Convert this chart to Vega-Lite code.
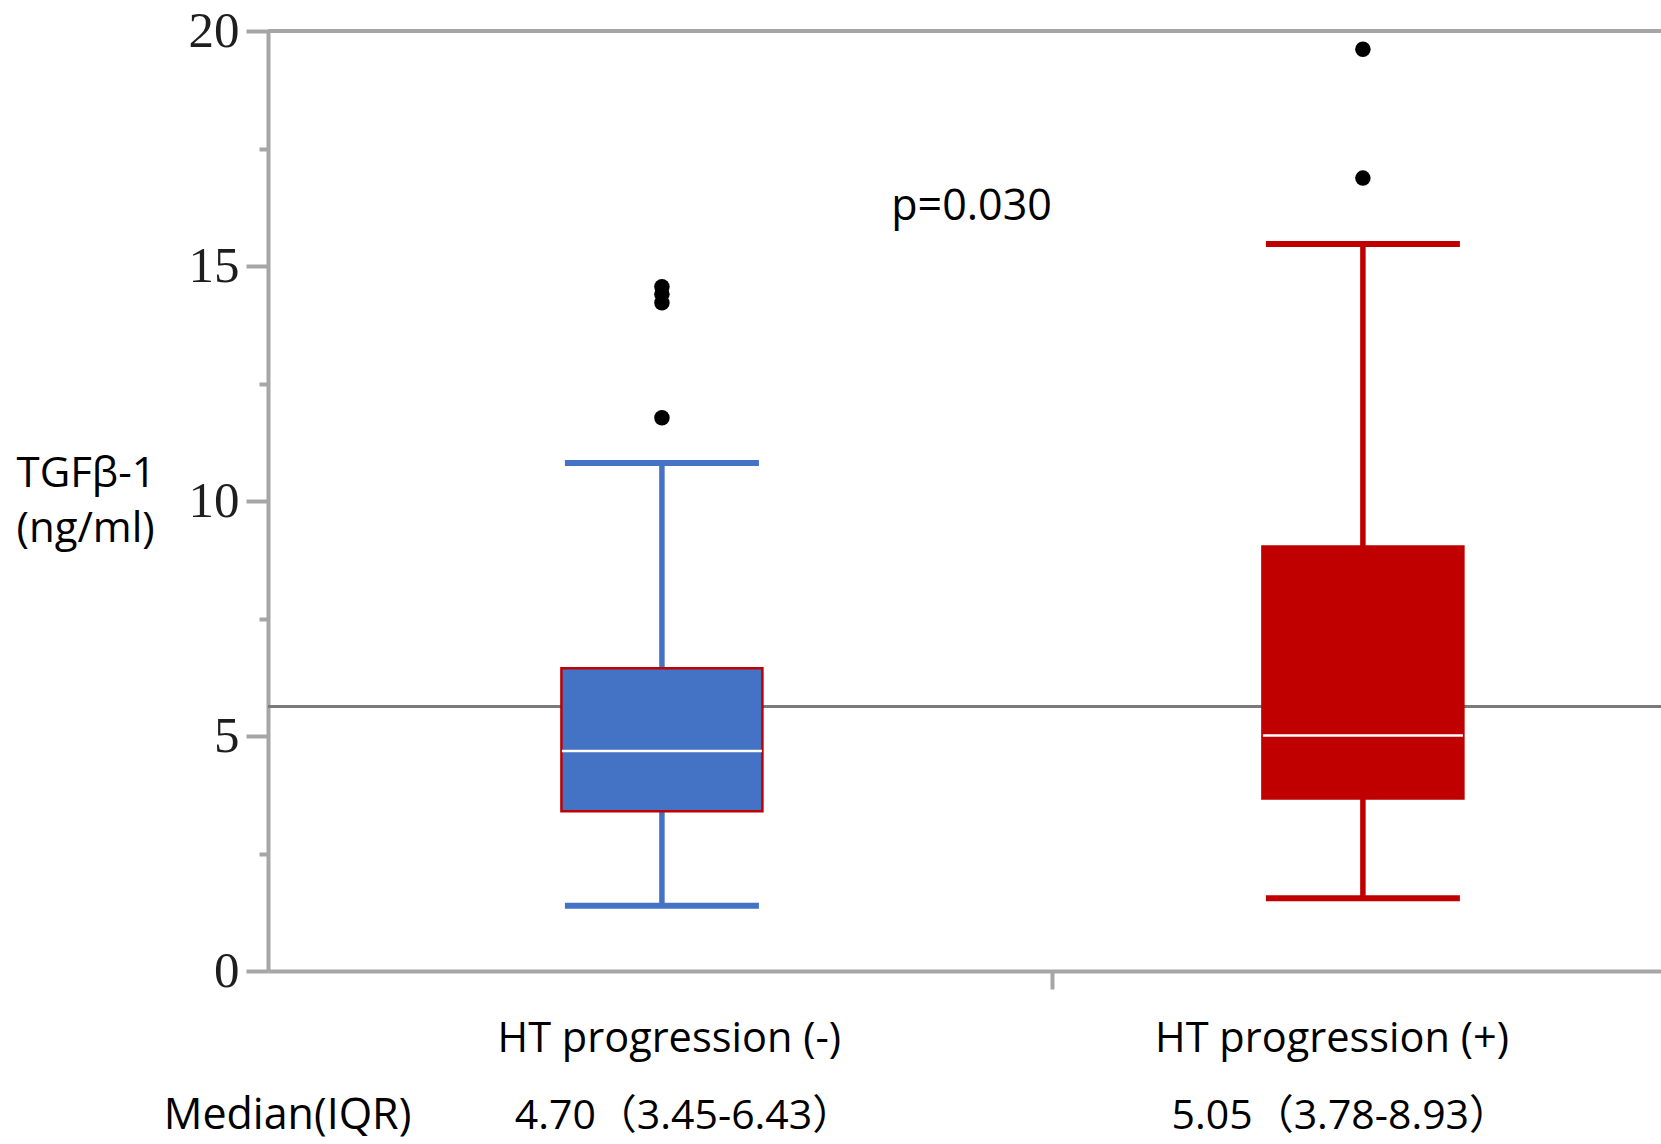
{
  "$schema": "https://vega.github.io/schema/vega-lite/v6.json",
  "width": 1393,
  "height": 940,
  "autosize": "none",
  "padding": {"left": 268, "top": 31, "right": 0, "bottom": 173},
  "background": "white",
  "config": {
    "view": {"stroke": null},
    "font": "Open Sans",
    "axisX": {
      "labels": false,
      "domainColor": "#a6a6a6",
      "domainWidth": 4,
      "tickColor": "#a6a6a6",
      "tickWidth": 4,
      "tickSize": 18,
      "grid": false
    },
    "axisY": {
      "grid": false,
      "domainColor": "#a6a6a6",
      "domainWidth": 4,
      "tickColor": "#a6a6a6",
      "tickWidth": 4,
      "labelFont": "Liberation Serif",
      "labelFontSize": 51,
      "labelColor": "#1e1e1e",
      "labelPadding": 7,
      "labelOverlap": false,
      "labelBaseline": "middle",
      "titleAngle": 0,
      "titleAlign": "left",
      "titleBaseline": "alphabetic",
      "titleX": -252,
      "titleY": 455,
      "titleFont": "Open Sans",
      "titleFontSize": 42,
      "titleFontWeight": "normal",
      "titleColor": "#000000",
      "titleLineHeight": 55
    }
  },
  "datasets": {
    "stats": [
      {"group": "HT progression (-)", "lower": 1.39, "q1": 3.40, "median": 4.68, "q3": 6.44, "upper": 10.81, "summary": "4.70（3.45-6.43）"},
      {"group": "HT progression (+)", "lower": 1.55, "q1": 3.67, "median": 5.01, "q3": 9.03, "upper": 15.47, "summary": "5.05（3.78-8.93）"}
    ],
    "outliers": [
      {"group": "HT progression (-)", "value": 11.77},
      {"group": "HT progression (-)", "value": 14.22},
      {"group": "HT progression (-)", "value": 14.40},
      {"group": "HT progression (-)", "value": 14.56},
      {"group": "HT progression (+)", "value": 16.87},
      {"group": "HT progression (+)", "value": 19.61}
    ],
    "notes": [
      {"label": "Median(IQR)", "p": "p=0.030"}
    ]
  },
  "layer": [
    {
      "data": {"name": "notes"},
      "mark": {"type": "rule", "color": "#a6a6a6", "strokeWidth": 4},
      "encoding": {
        "y": {
          "datum": 20,
          "type": "quantitative",
          "scale": {"domain": [0, 20], "nice": false, "zero": true},
          "axis": {
            "values": [0, 2.5, 5, 7.5, 10, 12.5, 15, 17.5, 20],
            "labelExpr": "datum.value % 5 === 0 ? datum.label : ''",
            "tickSize": {"condition": {"test": "datum.value % 5 !== 0", "value": 9}, "value": 22},
            "title": ["TGFβ-1", "(ng/ml)"]
          }
        }
      }
    },
    {
      "data": {"name": "notes"},
      "mark": {"type": "rule", "color": "#7a7a7a", "strokeWidth": 3},
      "encoding": {"y": {"datum": 5.63, "type": "quantitative"}}
    },
    {
      "data": {"name": "stats"},
      "mark": {"type": "rule", "strokeWidth": 5.5},
      "encoding": {
        "x": {
          "field": "group",
          "type": "nominal",
          "scale": {"type": "band", "domain": ["HT progression (-)", "HT progression (+)"], "paddingInner": 0.3, "paddingOuter": 0.1436, "align": 0.738},
          "axis": {
            "values": ["HT progression (+)"],
            "bandPosition": -0.1336,
            "title": null
          }
        },
        "y": {"field": "lower", "type": "quantitative"},
        "y2": {"field": "upper"},
        "color": {"field": "group", "type": "nominal", "scale": {"domain": ["HT progression (-)", "HT progression (+)"], "range": ["#4472c4", "#c00000"]}, "legend": null}
      }
    },
    {
      "data": {"name": "stats"},
      "mark": {"type": "tick", "size": 194, "thickness": 6, "opacity": 1},
      "encoding": {
        "x": {"field": "group", "type": "nominal"},
        "y": {"field": "lower", "type": "quantitative"},
        "color": {"field": "group", "type": "nominal", "legend": null}
      }
    },
    {
      "data": {"name": "stats"},
      "mark": {"type": "tick", "size": 194, "thickness": 6, "opacity": 1},
      "encoding": {
        "x": {"field": "group", "type": "nominal"},
        "y": {"field": "upper", "type": "quantitative"},
        "color": {"field": "group", "type": "nominal", "legend": null}
      }
    },
    {
      "data": {"name": "stats"},
      "mark": {"type": "bar", "width": 201, "stroke": "#c00000", "strokeWidth": 2.5, "opacity": 1},
      "encoding": {
        "x": {"field": "group", "type": "nominal"},
        "y": {"field": "q1", "type": "quantitative"},
        "y2": {"field": "q3"},
        "color": {"field": "group", "type": "nominal", "legend": null}
      }
    },
    {
      "data": {"name": "stats"},
      "mark": {"type": "tick", "size": 200, "thickness": 2.5, "color": "#ffffff", "opacity": 1},
      "encoding": {
        "x": {"field": "group", "type": "nominal"},
        "y": {"field": "median", "type": "quantitative"}
      }
    },
    {
      "data": {"name": "outliers"},
      "mark": {"type": "point", "filled": true, "color": "#000000", "size": 240, "opacity": 1},
      "encoding": {
        "x": {"field": "group", "type": "nominal"},
        "y": {"field": "value", "type": "quantitative"}
      }
    },
    {
      "data": {"name": "stats"},
      "transform": [{"filter": "datum.group === 'HT progression (-)'"}],
      "mark": {"type": "text", "fontSize": 41.5, "align": "center", "baseline": "alphabetic", "color": "#000000", "font": "Open Sans"},
      "encoding": {
        "x": {"field": "group", "type": "nominal", "bandPosition": 0.515},
        "y": {"datum": -1.72, "type": "quantitative"},
        "text": {"field": "group"}
      }
    },
    {
      "data": {"name": "stats"},
      "transform": [{"filter": "datum.group === 'HT progression (+)'"}],
      "mark": {"type": "text", "fontSize": 41.5, "align": "center", "baseline": "alphabetic", "color": "#000000", "font": "Open Sans"},
      "encoding": {
        "x": {"field": "group", "type": "nominal", "bandPosition": 0.437},
        "y": {"datum": -1.72, "type": "quantitative"},
        "text": {"field": "group"}
      }
    },
    {
      "data": {"name": "stats"},
      "transform": [{"filter": "datum.group === 'HT progression (-)'"}],
      "mark": {"type": "text", "fontSize": 41, "align": "center", "baseline": "alphabetic", "color": "#000000", "font": "Open Sans, Noto Sans CJK JP"},
      "encoding": {
        "x": {"field": "group", "type": "nominal", "bandPosition": 0.545},
        "y": {"datum": -3.37, "type": "quantitative"},
        "text": {"field": "summary"}
      }
    },
    {
      "data": {"name": "stats"},
      "transform": [{"filter": "datum.group === 'HT progression (+)'"}],
      "mark": {"type": "text", "fontSize": 41, "align": "center", "baseline": "alphabetic", "color": "#000000", "font": "Open Sans, Noto Sans CJK JP"},
      "encoding": {
        "x": {"field": "group", "type": "nominal", "bandPosition": 0.455},
        "y": {"datum": -3.37, "type": "quantitative"},
        "text": {"field": "summary"}
      }
    },
    {
      "data": {"name": "notes"},
      "mark": {"type": "text", "fontSize": 43, "align": "center", "baseline": "alphabetic", "color": "#000000", "font": "Open Sans"},
      "encoding": {
        "x": {"datum": "HT progression (-)", "type": "nominal", "bandPosition": -0.263},
        "y": {"datum": -3.37, "type": "quantitative"},
        "text": {"field": "label"}
      }
    },
    {
      "data": {"name": "notes"},
      "mark": {"type": "text", "fontSize": 43, "align": "center", "baseline": "alphabetic", "color": "#000000", "font": "Open Sans"},
      "encoding": {
        "x": {"datum": "HT progression (-)", "type": "nominal", "bandPosition": 1.131},
        "y": {"datum": 15.98, "type": "quantitative"},
        "text": {"field": "p"}
      }
    }
  ]
}
